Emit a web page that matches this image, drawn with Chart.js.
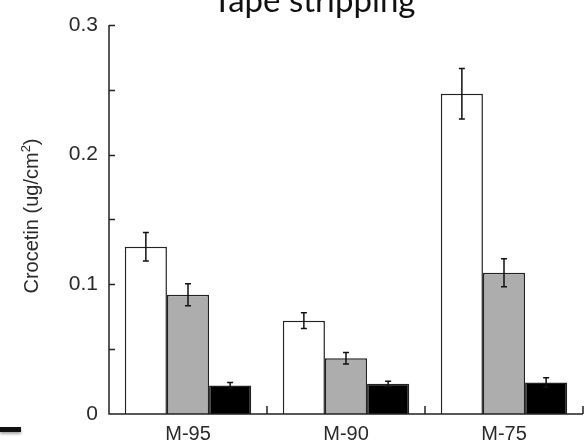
<!DOCTYPE html>
<html>
<head>
<meta charset="utf-8">
<script src="https://cdn.jsdelivr.net/npm/chart.js@4.4.1/dist/chart.umd.min.js"></script>
<style>
  html, body { margin: 0; padding: 0; background: #fff; }
  #wrap { width: 587px; height: 447px; position: relative; }
</style>
</head>
<body>
<div id="wrap"><canvas id="c" width="587" height="447"></canvas></div>
<script>
// Crocetin recovered per formulation after tape stripping
const categories = ['M-95', 'M-90', 'M-75'];
const seriesA = [0.129, 0.072, 0.247];
const errorsA = [0.011, 0.006, 0.0195];
const seriesB = [0.092, 0.043, 0.109];
const errorsB = [0.0085, 0.0045, 0.0108];
const seriesC = [0.022, 0.0233, 0.0243];
const errorsC = [0.0023, 0.002, 0.0036];
const yTickStep = 0.05;
const yMax = 0.3;
const titleText = 'Tape stripping';
const yTitleParts = ['Crocetin (ug/cm', '2', ')'];

// error bars drawn on top of each bar
const errorBarPlugin = {
  id: 'errorBars',
  afterDatasetsDraw(chart) {
    const ctx = chart.ctx;
    const y = chart.scales.y;
    ctx.save();
    ctx.strokeStyle = '#111';
    ctx.lineWidth = 1.5;
    chart.data.datasets.forEach((ds, di) => {
      const meta = chart.getDatasetMeta(di);
      meta.data.forEach((bar, i) => {
        const v = ds.data[i], e = ds.errors[i];
        const x = bar.x;
        const yt = y.getPixelForValue(v + e);
        const yb = y.getPixelForValue(v - e);
        ctx.beginPath();
        ctx.moveTo(x, yt); ctx.lineTo(x, yb);
        ctx.moveTo(x - 3, yt); ctx.lineTo(x + 3, yt);
        ctx.moveTo(x - 3, yb); ctx.lineTo(x + 3, yb);
        ctx.stroke();
      });
    });
    ctx.restore();
  }
};

// axis lines with inward ticks, title and axis caption
const framePlugin = {
  id: 'frame',
  afterDraw(chart) {
    const ctx = chart.ctx;
    const xs = chart.scales.x, ys = chart.scales.y;
    const a = chart.chartArea;
    ctx.save();
    ctx.strokeStyle = '#222';
    ctx.lineWidth = 1.5;
    ctx.beginPath();
    // y axis
    ctx.moveTo(a.left, ys.getPixelForValue(yMax));
    ctx.lineTo(a.left, ys.getPixelForValue(0));
    // x axis
    ctx.lineTo(a.right, ys.getPixelForValue(0));
    // y ticks pointing inward
    for (let v = yTickStep; v <= yMax + 1e-9; v += yTickStep) {
      const py = Math.round(ys.getPixelForValue(v)) + 0.5;
      ctx.moveTo(a.left, py);
      ctx.lineTo(a.left + 6, py);
    }
    // x ticks at category boundaries, pointing up
    const half = (xs.getPixelForValue(1) - xs.getPixelForValue(0)) / 2;
    for (let i = 0; i < categories.length; i++) {
      const px = Math.round(xs.getPixelForValue(i) + half);
      const py = ys.getPixelForValue(0);
      ctx.moveTo(px, py);
      ctx.lineTo(px, py - 8);
    }
    ctx.stroke();

    // chart title
    ctx.fillStyle = '#111';
    ctx.font = '33px Lato, "Open Sans", sans-serif';
    ctx.textAlign = 'center';
    ctx.textBaseline = 'alphabetic';
    ctx.fillText(titleText, 314, 12);

    // y axis caption with superscript
    ctx.save();
    ctx.translate(38, 216);
    ctx.rotate(-Math.PI / 2);
    ctx.fillStyle = '#2a2a2a';
    ctx.textBaseline = 'alphabetic';
    ctx.textAlign = 'left';
    const mainFont = '20px "Liberation Sans", Arial, sans-serif';
    const supFont = '13px "Liberation Sans", Arial, sans-serif';
    ctx.font = mainFont;
    const w0 = ctx.measureText(yTitleParts[0]).width;
    const w2 = ctx.measureText(yTitleParts[2]).width;
    ctx.font = supFont;
    const w1 = ctx.measureText(yTitleParts[1]).width;
    let x = -(w0 + w1 + w2) / 2;
    ctx.font = mainFont;
    ctx.fillText(yTitleParts[0], x, 0);
    x += w0;
    ctx.font = supFont;
    ctx.fillText(yTitleParts[1], x, -8);
    x += w1;
    ctx.font = mainFont;
    ctx.fillText(yTitleParts[2], x, 0);
    ctx.restore();

    // short dash at lower left
    ctx.shadowColor = 'rgba(0,0,0,0.35)';
    ctx.shadowBlur = 3;
    ctx.shadowOffsetY = 2;
    ctx.fillStyle = '#111';
    ctx.fillRect(0, 427, 21, 5);
    ctx.restore();
  }
};

new Chart(document.getElementById('c'), {
  type: 'bar',
  data: {
    labels: categories,
    datasets: [
      { data: seriesA, errors: errorsA, backgroundColor: '#ffffff', borderColor: '#222', borderWidth: 1.5 },
      { data: seriesB, errors: errorsB, backgroundColor: '#adadad', borderColor: '#222', borderWidth: 1.5 },
      { data: seriesC, errors: errorsC, backgroundColor: '#000000', borderColor: '#222', borderWidth: 1.5 }
    ]
  },
  options: {
    responsive: false,
    animation: false,
    devicePixelRatio: 1,
    layout: { padding: { top: 25, right: 4, left: 0, bottom: 0 } },
    plugins: { legend: { display: false }, title: { display: false }, tooltip: { enabled: false } },
    datasets: { bar: { categoryPercentage: 0.8, barPercentage: 1.0 } },
    scales: {
      x: {
        grid: { display: false },
        border: { display: false },
        ticks: {
          color: '#2a2a2a',
          padding: 0,
          font: { family: '"Liberation Sans", Arial, sans-serif', size: 20 }
        },
        afterFit(s) { s.height = 33; }
      },
      y: {
        min: 0,
        max: yMax,
        grid: { display: false },
        border: { display: false },
        ticks: {
          stepSize: yTickStep,
          color: '#2a2a2a',
          padding: 3,
          font: { family: '"Liberation Sans", Arial, sans-serif', size: 21 },
          callback(v) {
            const t = v * 10;
            if (Math.abs(t - Math.round(t)) > 1e-6) return '';
            return v === 0 ? '0' : v.toFixed(1);
          }
        },
        afterFit(s) { s.width = 109; }
      }
    }
  },
  plugins: [errorBarPlugin, framePlugin]
});
</script>
</body>
</html>
